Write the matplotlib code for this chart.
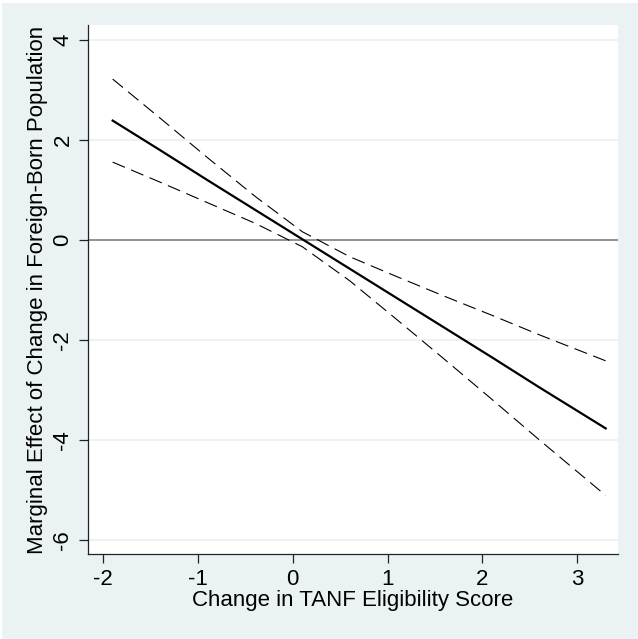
import numpy as np
import matplotlib
matplotlib.use('Agg')
import matplotlib.pyplot as plt
from matplotlib.patches import Rectangle

plt.rcParams['font.family'] = ['Liberation Sans', 'DejaVu Sans']

# values
tanf = [-1.9, -1.4, -0.9, -0.4, 0.1, 0.6, 1.1, 1.6, 2.1, 2.6, 3.3]
effect = [2.38, 1.79, 1.19, 0.60, 0.01, -0.58, -1.17, -1.76, -2.35, -2.95, -3.77]
upper = [3.21, 2.43, 1.64, 0.87, 0.16, -0.34, -0.74, -1.13, -1.51, -1.90, -2.42]
lower = [1.55, 1.15, 0.74, 0.33, -0.14, -0.82, -1.60, -2.39, -3.19, -4.00, -5.11]

xticks = [-2, -1, 0, 1, 2, 3]
yticks = [-6, -4, -2, 0, 2, 4]

bg = '#EAF2F3'

fig = plt.figure(figsize=(6.38, 6.39), dpi=100)
fig.patch.set_facecolor('white')
# stata style outer region, thin white border top/left
fig.patches.append(Rectangle((2 / 638, 0), 1, (639 - 3) / 639, transform=fig.transFigure,
                             facecolor=bg, edgecolor='none', zorder=-10))

ax = fig.add_axes([88 / 638, (639 - 554) / 639, (618 - 88) / 638, (554 - 25) / 639])
ax.set_facecolor('white')

for yv in yticks:
    ax.axhline(yv, color=bg, lw=1.3, zorder=0)
ax.axhline(0, color='#808080', lw=1.2, zorder=1)

ax.plot(tanf, effect, color='black', lw=1.6, zorder=3)
ax.plot(tanf, upper, color='black', lw=0.8, dashes=(12, 6), zorder=3)
ax.plot(tanf, lower, color='black', lw=0.8, dashes=(12, 6), zorder=3)

ax.set_xlim(-2.16, 3.43)
ax.set_ylim(-6.28, 4.29)
ax.set_xticks(xticks)
ax.set_yticks(yticks)
ax.set_xticklabels([str(v) for v in xticks])
ax.set_yticklabels([str(v) for v in yticks], rotation=90, va='center')

for s in ['top', 'right']:
    ax.spines[s].set_visible(False)
for s in ['left', 'bottom']:
    ax.spines[s].set_color('#222222')
    ax.spines[s].set_linewidth(0.9)

ax.tick_params(axis='both', direction='out', length=6.5, width=0.9, color='#222222',
               labelsize=16, pad=4)

ax.set_xlabel('Change in TANF Eligibility Score', fontsize=16, labelpad=0)
ax.set_ylabel('Marginal Effect of Change in Foreign-Born Population', fontsize=16, labelpad=3)

fig.savefig('out.png', dpi=100, facecolor=fig.get_facecolor())
